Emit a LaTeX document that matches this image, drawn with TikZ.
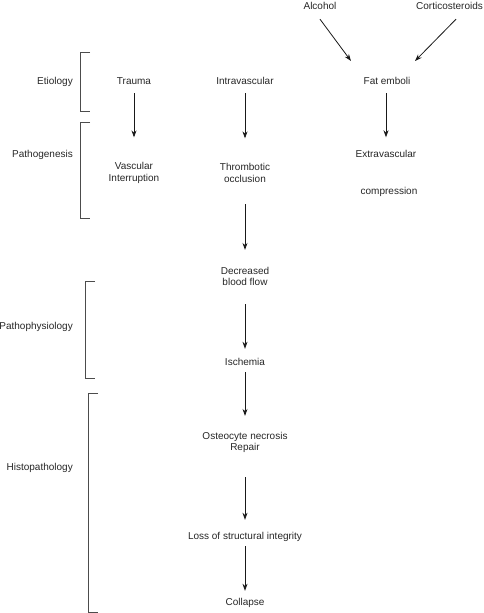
\documentclass[tikz,border=0pt]{standalone}
\usepackage{fontspec}
\setmainfont{Liberation Sans}
\usetikzlibrary{arrows.meta}
\begin{document}
\begin{tikzpicture}[x=1pt,y=-1pt,
  txt/.style={font=\fontsize{10}{11.5}\selectfont, text=black!85, inner sep=0pt, align=center, text height=7pt, text depth=2pt},
  mtxt/.style={font=\fontsize{10}{11.5}\selectfont, text=black!85, inner sep=0pt, align=center},
  lbl/.style={font=\fontsize{10}{12}\selectfont, text=black!85, inner sep=0pt, anchor=east, text height=7pt, text depth=2pt},
  arr/.style={-{Stealth[length=7pt,width=5pt]}, line width=0.8pt, black!90},
  brk/.style={line width=1pt, black!70}]
\useasboundingbox (0,0) rectangle (483,613);

% top causes
\node[txt] (alc) at (320,7) {Alcohol};
\node[txt] (cort) at (449.5,7) {Corticosteroids};
\coordinate (fin1) at (351,61);
\coordinate (fin2) at (415,61);

% row 1
\node[txt] (trauma) at (134,82) {Trauma};
\node[txt] (intra) at (245,82) {Intravascular};
\node[txt] (fat) at (387,82) {Fat emboli};

% row 2
\node[mtxt] (vasc) at (134,173) {Vascular\\Interruption};
\node[mtxt] (thromb) at (245,173) {Thrombotic\\occlusion};
\node[txt] (extra) at (386,155) {Extravascular};
\node[txt] (comp) at (389,192) {compression};

% main chain
\node[mtxt] (dec) at (245,276.5) {Decreased\\blood flow};
\node[txt] (isch) at (245,363) {Ischemia};
\node[mtxt] (osteo) at (245,442.5) {Osteocyte necrosis\\Repair};
\node[txt] (loss) at (245,537) {Loss of structural integrity};
\node[txt] (coll) at (245,603) {Collapse};

% stage labels
\node[lbl] (etio) at (73,82) {Etiology};
\node[lbl] (pathog) at (73,155) {Pathogenesis};
\node[lbl] (pathoph) at (73,327) {Pathophysiology};
\node[lbl] (histo) at (73,468) {Histopathology};

% brackets
\draw[brk] (90,52) -- (80,52) -- (80,111) -- (90,111);
\draw[brk] (90,122) -- (80,122) -- (80,218) -- (90,218);
\draw[brk] (95,281) -- (85,281) -- (85,378) -- (95,378);
\draw[brk] (98,393) -- (88,393) -- (88,612) -- (98,612);

% arrows
\draw[arr] ([yshift=-7.5pt]alc.south) -- (fin1);
\draw[arr] ([xshift=6.5pt,yshift=-7.5pt]cort.south) -- (fin2);
\draw[arr, shorten <=6.5pt, shorten >=25pt] (trauma.south) -- (vasc.north);
\draw[arr, shorten <=6.5pt, shorten >=25pt] (intra.south) -- (thromb.north);
\draw[arr, shorten <=6.5pt, shorten >=13pt] (extra.north |- fat.south) -- (extra.north);
\draw[arr, shorten <=21.5pt, shorten >=17pt] (thromb.south) -- (dec.north);
\draw[arr, shorten <=18pt, shorten >=9.5pt] (dec.south) -- (isch.north);
\draw[arr, shorten <=4.5pt, shorten >=16pt] (isch.south) -- (osteo.north);
\draw[arr, shorten <=24pt, shorten >=12.5pt] (osteo.south) -- (loss.north);
\draw[arr, shorten <=4.5pt, shorten >=7.5pt] (loss.south) -- (coll.north);
\end{tikzpicture}
\end{document}
